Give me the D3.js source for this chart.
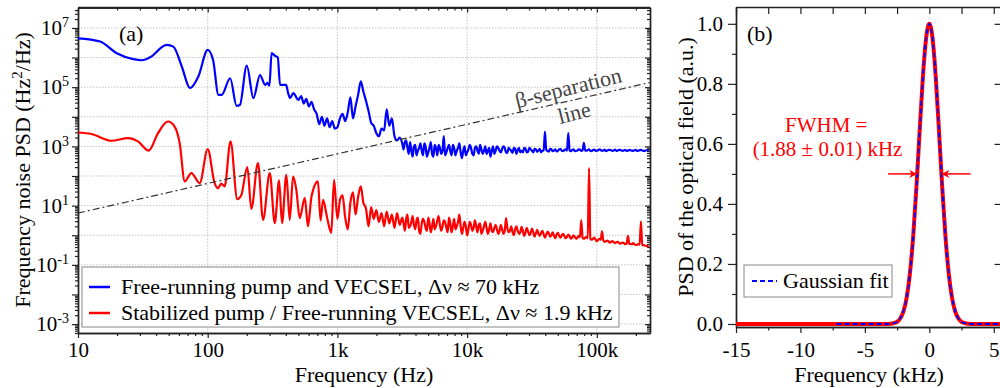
<!DOCTYPE html>
<html><head><meta charset="utf-8">
<script src="https://cdn.jsdelivr.net/npm/d3@7"></script>
<style>
body{margin:0;background:#fff;}
svg{display:block;font-family:"Liberation Serif","Times New Roman",serif;}
</style></head><body>
<svg id="chart" width="1000" height="388"></svg>
<script>
// ---------- Panel (a) data ----------
const blueLF = [[10,4.47e6],[14.8,3.47e6],[19.9,1.4e6],[26.7,8.8e5],[31,8.1e5],[35.9,1.02e6],[48.3,2.69e6],[54.3,2.34e6],[63.1,5.0e5],[73.1,9.3e4],[84.7,2.29e5],[100,1.82e6],[110,8.3e5],[121,5.5e4],[128,5.5e4],[149,2.0e5],[167,2.34e4],[177,2.5e4],[200,5.4e5],[225,4.3e4],[253,2.57e5],[277,1.2e5],[288,1.41e5],[299,1.12e5],[311,1.41e6],[330,1.15e6],[347,1.0e6],[361,1.2e5],[402,1.2e5],[417,6.3e4],[432,4.3e4],[457,6.3e4],[500,3.7e4],[525,5.0e4],[550,2.8e4],[575,4.0e4],[603,2.24e4],[631,3.2e4],[661,1.78e4],[692,1.26e4],[724,5.6e3],[759,1.0e4],[794,5.0e3],[832,8.9e3],[871,4.5e3],[912,7.1e3],[955,4.0e3]];
const redLF = [[10,2950],[12.7,2630],[18.1,1550],[24.3,1900],[29,1480],[35.1,724],[41.4,2820],[49.4,6920],[55.6,4680],[60.8,1290],[66.5,66],[74.8,126],[86.7,57.5],[100,813],[113,57.5],[120,38.9],[127,55],[135,44.7],[150,1480],[169,16.6],[182,23.4],[202,200],[217,7.76],[244,275],[267,3.31],[301,126],[329,2.57],[355,70.8],[374,2.57],[404,110],[429,3.31],[455,95.5],[482,34.7],[512,3.8],[560,18.2],[593,2.0],[631,20],[708,66],[741,3.16],[776,15.8],[832,4.0],[897,1.2],[942,74]];
const freqHF = [1000,1047,1096,1148,1202,1259,1318,1380,1445,1514,1585,1660,1738,1820,1905,1995,2089,2188,2291,2399,2512,2630,2754,2884,3020,3162,3311,3467,3631,3802,3981,4169,4365,4571,4786,5012,5248,5495,5754,6026,6310,6607,6918,7244,7586,7943,8318,8710,9120,9550,
10000,10471,10965,11482,12023,12589,13183,13804,14454,15136,15849,16596,17378,18197,19055,19953,20893,21878,22909,23988,25119,26303,27542,28840,30200,31623,33113,34674,36308,38019,39811,41687,43652,45709,47863,50119,52481,54954,57544,60256,63096,66069,69183,72444,75858,79433,83176,87096,91201,95499,
100000,104713,109648,114815,120226,125893,131826,138038,144544,151356,158489,165959,173780,181970,190546,199526,208930,218776,229087,239883,251189];
const blueHF = [4470,8900,12600,7100,14100,45000,8900,22400,56000,158000,
71000,35000,15800,6300,5000,2800,2200,4000,3500,17800,
5000,8900,2200,1580,2000,1260,1410,890,1410,450,
1120,710,1260,500,1000,630,1410,450,890,1120,
560,2240,630,1120,500,890,710,1260,400,1000,
630,1120,560,890,710,1120,560,1000,710,450,
1000,710,890,630,1000,630,890,710,890,560,
890,710,890,630,890,710,830,660,830,710,
3160,710,830,690,790,710,830,690,790,2820,
690,790,710,790,710,1320,720,790,690,780,
720,790,710,780,720,760,710,780,720,760,710,760,720,740,710,760,720,760,710,740,720];
const redHF = [3.55,15.8,22.4,3.98,1.58,12.6,28.2,5.01,20.0,44.7,
12.6,7.94,2.0,8.91,3.55,7.08,2.82,5.62,2.0,6.31,
2.51,5.01,1.78,5.62,2.24,3.98,1.41,5.01,2.0,4.47,
1.58,3.98,1.12,3.55,1.78,3.98,1.26,3.55,2.0,4.47,
1.41,3.16,1.78,3.98,1.26,3.55,2.0,5.01,1.12,2.82,
1.0,2.82,1.41,3.16,1.26,2.51,1.41,2.82,1.12,2.51,
1.26,2.24,1.12,2.24,1.12,3.80,1.26,2.0,1.0,2.0,
1.12,1.91,0.95,1.78,1.0,1.66,0.89,1.51,0.95,1.41,
0.83,1.32,0.89,1.26,0.79,1.20,0.83,1.12,0.79,1.05,
0.76,1.0,0.76,0.95,3.16,0.76,0.89,186,0.71,0.83,
0.63,0.76,1.35,0.60,0.66,0.56,0.63,0.54,0.60,0.52,0.56,0.50,0.95,0.50,0.54,0.47,0.50,2.95,0.46,0.44,0.40];
// in-between samples of the noisy high-frequency region
const freqMid = [3236,3388,3548,3715,3890,4074,4266,4467,4677,4898,5129,5370,5623,5888,6166,6457,6761,7079,7413,7762,8128,8511,8913,9333,9772,
10233,10715,11220,11749,12303,12882,13490,14125,14791,15488,16218,16982,17783,18621,19498,20417,21380,22387,23442,24547,25704,26915,28184,29512,30903,32359,33884,35481,37154,38905,40738,42658,44668,46774,48978,51286,53703,56234,58884,61660,64565,67608,70795,74131,77625,81283,85114,89125,93325,97724,
102329,107152,112202,117490,123027,128825,134896,141254,147911,154882,162181,169824,177828,186209,194984,204174,213796,223872,234423,245471];
const blueMid = [794,1585,562,708,1000,501,891,708,1259,447,891,562,1122,501,891,708,501,891,708,1122,501,891,631,708,501,
794,891,501,1000,562,794,708,562,891,708,562,1000,708,832,891,603,794,603,832,759,631,631,832,661,794,631,794,724,631,724,741,661,794,724,676,794,708,759,724,724,759,692,724,776,724,724,759,708,759,708,
741,759,724,692,759,741,724,708,759,724,741,708,759,724,741,708,741,724,708,741];
const redMid = [2.51,3.55,1.78,2.82,2.24,3.16,1.41,2.51,2.82,1.41,2.51,2.0,1.58,3.16,2.24,2.0,2.82,1.26,2.51,2.0,1.58,2.82,2.0,1.78,2.0,
1.58,2.24,1.78,2.0,2.24,1.12,2.0,1.78,1.58,1.41,1.78,1.58,1.41,1.58,1.41,1.78,1.41,1.26,1.58,1.41,1.26,1.41,1.26,1.32,1.20,1.26,1.15,1.12,1.20,1.07,1.05,1.15,1.0,0.95,1.07,0.95,1.0,0.93,0.89,0.93,0.83,0.89,0.83,0.87,0.83,0.81,0.79,0.76,0.76,0.72,
0.69,0.71,0.66,0.63,0.62,0.60,0.59,0.58,0.56,0.55,0.54,0.52,0.52,0.50,0.50,0.48,0.48,0.47,0.45,0.43];
const betaLine = [[10,5.6],[257000,1.44e5]];
const xTicksA = [10,100,1000,10000,100000];
const xTickLabelsA = ["10","100","1k","10k","100k"];
const yExpA = [7,5,3,1,-1,-3];
const legendA = ["Free-running pump and VECSEL, \u0394\u03bd \u2248 70 kHz","Stabilized pump / Free-running VECSEL, \u0394\u03bd \u2248 1.9 kHz"];

// ---------- Panel (b) data ----------
const specFreq = [-15,-3.5,-3,-2.75,-2.5,-2.25,-2,-1.75,-1.5,-1.25,-1,-0.75,-0.5,-0.25,0,0.25,0.5,0.75,1,1.25,1.5,1.75,2,2.25,2.5,2.75,3,3.5,6];
const specPSD  = [0,0,0.001,0.003,0.007,0.019,0.043,0.09,0.171,0.293,0.456,0.643,0.822,0.952,1.0,0.952,0.822,0.643,0.456,0.293,0.171,0.09,0.043,0.019,0.007,0.003,0.001,0,0];
const fitFreq = [-7.2,-3.5,-3,-2.75,-2.5,-2.25,-2,-1.75,-1.5,-1.25,-1,-0.75,-0.5,-0.25,0,0.25,0.5,0.75,1,1.25,1.5,1.75,2,2.25,2.5,2.75,3,3.5,6];
const fitPSD  = [0,0,0.001,0.003,0.007,0.019,0.043,0.09,0.171,0.293,0.456,0.643,0.822,0.952,1.0,0.952,0.822,0.643,0.456,0.293,0.171,0.09,0.043,0.019,0.007,0.003,0.001,0,0];
const xTicksB = [-15,-10,-5,0,5];
const yTicksB = [0,0.2,0.4,0.6,0.8,1.0];
const fwhmHalf = 0.94;

const svg = d3.select("#chart");
const AX = "#222";
const FONT = "Liberation Serif, Times New Roman, serif";

// ================= Panel (a) =================
const xa = d3.scaleLog().domain([10, 2.57e5]).range([78, 650]);
const ya = d3.scaleLog().domain([5e-4, 4.9e7]).range([333, 7.5]);
const ga = svg.append("g");
svg.append("clipPath").attr("id","clipA").append("rect")
  .attr("x",78).attr("y",7.5).attr("width",572).attr("height",325.5);

const decX = [10,100,1000,10000,100000];
const decY = d3.range(-3,8).map(e=>Math.pow(10,e));
ga.append("g").selectAll("line").data(decX.slice(1)).join("line")
  .attr("x1",d=>xa(d)).attr("x2",d=>xa(d)).attr("y1",7.5).attr("y2",333)
  .attr("stroke","#c4c4c4").attr("stroke-width",1).attr("stroke-dasharray","1.5,1.5");
ga.append("g").selectAll("line").data(decY).join("line")
  .attr("x1",78).attr("x2",650).attr("y1",d=>ya(d)).attr("y2",d=>ya(d))
  .attr("stroke","#c4c4c4").attr("stroke-width",1).attr("stroke-dasharray","1.5,1.5");

const minorX = [];
for (let e=1;e<=5;e++) for (let k=2;k<=9;k++){const v=k*Math.pow(10,e); if(v<=2.57e5) minorX.push(v);}
const minorY = [];
for (let e=-4;e<=7;e++) for (let k=2;k<=9;k++){const v=k*Math.pow(10,e); if(v>=5e-4&&v<=4.9e7) minorY.push(v);}

function styleAxis(g){
  g.attr("font-family",FONT);
  g.selectAll("path.domain").attr("stroke",AX).attr("stroke-width",1.4);
  g.selectAll(".tick line").attr("stroke",AX).attr("stroke-width",1.2);
  g.selectAll(".tick text").attr("fill","#000").attr("font-size",21).attr("font-family",FONT);
}
const axB = ga.append("g").attr("transform","translate(0,333)")
  .call(d3.axisBottom(xa).tickValues(xTicksA).tickFormat((d,i)=>xTickLabelsA[i]).tickSize(5).tickSizeOuter(0).tickPadding(4));
styleAxis(axB);
const axBm = ga.append("g").attr("transform","translate(0,333)")
  .call(d3.axisBottom(xa).tickValues(minorX).tickFormat("").tickSize(3).tickSizeOuter(0));
styleAxis(axBm);
const axT = ga.append("g").attr("transform","translate(0,7.5)")
  .call(d3.axisTop(xa).tickValues(xTicksA).tickFormat("").tickSize(-5).tickSizeOuter(0));
styleAxis(axT);
const axTm = ga.append("g").attr("transform","translate(0,7.5)")
  .call(d3.axisTop(xa).tickValues(minorX).tickFormat("").tickSize(-3).tickSizeOuter(0));
styleAxis(axTm);
const axL = ga.append("g").attr("transform","translate(78,0)")
  .call(d3.axisLeft(ya).tickValues(decY).tickFormat("").tickSize(6).tickSizeOuter(0));
styleAxis(axL);
const axLm = ga.append("g").attr("transform","translate(78,0)")
  .call(d3.axisLeft(ya).tickValues(minorY).tickFormat("").tickSize(3).tickSizeOuter(0));
styleAxis(axLm);
const axLl = ga.append("g").attr("transform","translate(78,0)")
  .call(d3.axisLeft(ya).tickValues(yExpA.map(e=>Math.pow(10,e))).tickFormat("").tickSize(0));
axLl.attr("font-family",FONT);
axLl.select("path.domain").remove();
axLl.selectAll(".tick text").remove();
axLl.selectAll(".tick").each(function(d,i){
  const t = d3.select(this).append("text").attr("x",-9).attr("dy","0.32em")
    .attr("text-anchor","end").attr("font-size",21).attr("fill","#000").attr("font-family",FONT);
  t.append("tspan").text("10");
  t.append("tspan").attr("dy",-8).attr("font-size",14).text(String(yExpA[i]));
});
const axR = ga.append("g").attr("transform","translate(650,0)")
  .call(d3.axisRight(ya).tickValues(decY).tickFormat("").tickSize(-5).tickSizeOuter(0));
styleAxis(axR);
const axRm = ga.append("g").attr("transform","translate(650,0)")
  .call(d3.axisRight(ya).tickValues(minorY).tickFormat("").tickSize(-3).tickSizeOuter(0));
styleAxis(axRm);
ga.append("line").attr("x1",78).attr("x2",650).attr("y1",7.5).attr("y2",7.5).attr("stroke",AX).attr("stroke-width",1.4);

// series
const lineA = d3.line().x(d=>xa(d[0])).y(d=>ya(d[1])).curve(d3.curveMonotoneX);
function buildSeries(lf, hf, mid){
  const pts = freqHF.map((f,i)=>[f,hf[i]]).concat(freqMid.map((f,i)=>[f,mid[i]]));
  pts.sort((a,b)=>a[0]-b[0]);
  return lf.concat(pts);
}
const blueSeries = buildSeries(blueLF, blueHF, blueMid);
const redSeries = buildSeries(redLF, redHF, redMid);
const plotA = ga.append("g").attr("clip-path","url(#clipA)");
plotA.append("path").datum(redSeries).attr("d",lineA).attr("fill","none").attr("stroke","#ff0000").attr("stroke-width",2.2).attr("stroke-linejoin","round");
plotA.append("path").datum(blueSeries).attr("d",lineA).attr("fill","none").attr("stroke","#0000ff").attr("stroke-width",2.2).attr("stroke-linejoin","round");
plotA.append("path").datum(betaLine).attr("d",d3.line().x(d=>xa(d[0])).y(d=>ya(d[1])))
  .attr("fill","none").attr("stroke","#333").attr("stroke-width",1.2).attr("stroke-dasharray","7,3,2,3");

// labels
ga.append("text").attr("x",119).attr("y",41).attr("font-size",22).text("(a)");
ga.append("text").attr("transform","translate(570,95) rotate(-14)").attr("text-anchor","middle")
  .attr("font-size",22).attr("fill","#444").text("\u03b2-separation");
ga.append("text").attr("transform","translate(576,120) rotate(-14)").attr("text-anchor","middle")
  .attr("font-size",22).attr("fill","#444").text("line");
ga.append("text").attr("x",364).attr("y",382).attr("text-anchor","middle").attr("font-size",22).text("Frequency (Hz)");
const yta = ga.append("text").attr("transform","translate(30,170) rotate(-90)").attr("text-anchor","middle").attr("font-size",22);
yta.append("tspan").text("Frequency noise PSD (Hz");
yta.append("tspan").attr("dy",-8).attr("font-size",15).text("2");
yta.append("tspan").attr("dy",8).text("/Hz)");

// legend a
const lgA = ga.append("g");
lgA.append("rect").attr("x",82).attr("y",267).attr("width",537).attr("height",60)
  .attr("fill","#fff").attr("stroke","#888").attr("stroke-width",1);
const lgColors = ["#0000ff","#ff0000"];
legendA.forEach((t,i)=>{
  const yy = 287 + i*26;
  lgA.append("line").attr("x1",89).attr("x2",110).attr("y1",yy).attr("y2",yy).attr("stroke",lgColors[i]).attr("stroke-width",2.5);
  lgA.append("text").attr("x",121).attr("y",yy+7).attr("font-size",22).text(t);
});

// ================= Panel (b) =================
const xb = d3.scaleLinear().domain([-15, 5.6]).range([736, 1001.5]);
const yb = d3.scaleLinear().domain([-0.01, 1.056]).range([327, 7]);
const gb = svg.append("g");
svg.append("clipPath").attr("id","clipB").append("rect")
  .attr("x",736).attr("y",7).attr("width",266).attr("height",320);
const minorXB = [-12.5,-7.5,-2.5,2.5];
const minorYB = [0.1,0.3,0.5,0.7,0.9];

const bB = gb.append("g").attr("transform","translate(0,327)")
  .call(d3.axisBottom(xb).tickValues(xTicksB).tickFormat(d=>String(d)).tickSize(6).tickSizeOuter(0).tickPadding(9));
styleAxis(bB);
const bBm = gb.append("g").attr("transform","translate(0,327)")
  .call(d3.axisBottom(xb).tickValues(minorXB).tickFormat("").tickSize(3.5).tickSizeOuter(0));
styleAxis(bBm);
const bT = gb.append("g").attr("transform","translate(0,7)")
  .call(d3.axisTop(xb).tickValues(xTicksB.concat(minorXB)).tickFormat("").tickSize(-7).tickSizeOuter(0));
styleAxis(bT);
const bL = gb.append("g").attr("transform","translate(736,0)")
  .call(d3.axisLeft(yb).tickValues(yTicksB).tickFormat(d3.format(".1f")).tickSize(8).tickSizeOuter(0).tickPadding(5));
styleAxis(bL);
const bLm = gb.append("g").attr("transform","translate(736,0)")
  .call(d3.axisLeft(yb).tickValues(minorYB).tickFormat("").tickSize(4).tickSizeOuter(0));
styleAxis(bLm);
const bR = gb.append("g").attr("transform","translate(1001.5,0)")
  .call(d3.axisRight(yb).tickValues(yTicksB).tickFormat("").tickSize(-7).tickSizeOuter(0));
styleAxis(bR);

const plotB = gb.append("g").attr("clip-path","url(#clipB)");
const lineB = d3.line().x(d=>xb(d[0])).y(d=>yb(d[1])).curve(d3.curveMonotoneX);
plotB.append("path").datum(specFreq.map((f,i)=>[f,specPSD[i]])).attr("d",lineB)
  .attr("fill","none").attr("stroke","#ff0000").attr("stroke-width",4).attr("stroke-linejoin","round");
plotB.append("path").datum(fitFreq.map((f,i)=>[f,fitPSD[i]])).attr("d",lineB)
  .attr("fill","none").attr("stroke","#0000ff").attr("stroke-width",1.8).attr("stroke-dasharray","5,3");

const defs = svg.append("defs");
defs.append("marker").attr("id","arrR").attr("viewBox","0 0 10 10").attr("refX",10).attr("refY",5)
  .attr("markerWidth",10).attr("markerHeight",8).attr("markerUnits","userSpaceOnUse").attr("orient","auto")
  .append("path").attr("d","M0,0 L10,5 L0,10 L3,5 Z").attr("fill","#ff0000");
gb.append("line").attr("x1",xb(-3.2)).attr("x2",xb(-fwhmHalf)).attr("y1",yb(0.5)).attr("y2",yb(0.5))
  .attr("stroke","#ff0000").attr("stroke-width",1.5).attr("marker-end","url(#arrR)");
gb.append("line").attr("x1",xb(3.2)).attr("x2",xb(fwhmHalf)).attr("y1",yb(0.5)).attr("y2",yb(0.5))
  .attr("stroke","#ff0000").attr("stroke-width",1.5).attr("marker-end","url(#arrR)");

gb.append("text").attr("x",xb(-8.0)).attr("y",yb(0.64)).attr("text-anchor","middle").attr("font-size",21).attr("fill","#ff0000").text("FWHM =");
gb.append("text").attr("x",xb(-7.9)).attr("y",yb(0.559)).attr("text-anchor","middle").attr("font-size",21).attr("fill","#ff0000").text("(1.88 \u00b1 0.01) kHz");
gb.append("text").attr("x",747).attr("y",41).attr("font-size",22).text("(b)");
gb.append("text").attr("x",869).attr("y",382).attr("text-anchor","middle").attr("font-size",22).text("Frequency (kHz)");
gb.append("text").attr("transform","translate(693,167) rotate(-90)").attr("text-anchor","middle").attr("font-size",22).text("PSD of the optical field (a.u.)");

const lgB = gb.append("g");
lgB.append("rect").attr("x",744).attr("y",265).attr("width",148).attr("height",32).attr("fill","#fff").attr("stroke","#888").attr("stroke-width",1);
lgB.append("line").attr("x1",752).attr("x2",777).attr("y1",281).attr("y2",281).attr("stroke","#0000ff").attr("stroke-width",1.8).attr("stroke-dasharray","5,3");
lgB.append("text").attr("x",783).attr("y",288).attr("font-size",22).text("Gaussian fit");
</script>
</body></html>
